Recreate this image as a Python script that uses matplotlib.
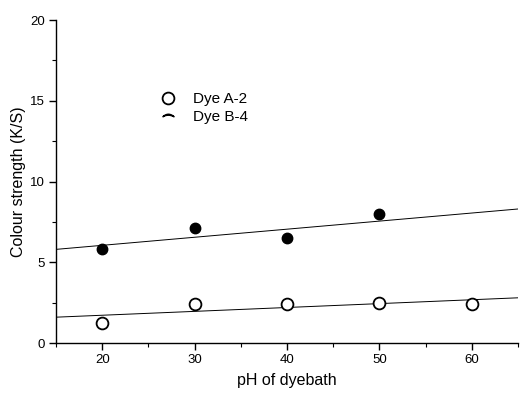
import matplotlib
matplotlib.use("Agg")
import matplotlib.pyplot as plt
from matplotlib.lines import Line2D
from matplotlib.ticker import MultipleLocator

plt.rcParams["font.family"] = ["Liberation Sans", "DejaVu Sans"]

ph = [20, 30, 40, 50, 60]
dye_a = [1.25, 2.4, 2.4, 2.5, 2.4]
ph_b = [20, 30, 40, 50]
dye_b = [5.8, 7.1, 6.5, 8.0]

fit_x = [15, 65]
fit_a = [1.6, 2.8]
fit_b = [5.8, 8.3]

fig = plt.figure(figsize=(5.21, 3.94), dpi=100)
ax = fig.add_axes([0.1075, 0.1294, 0.8865, 0.8196])

ax.plot(fit_x, fit_a, color="black", lw=0.7)
ax.plot(fit_x, fit_b, color="black", lw=0.7)
ax.plot(ph, dye_a, "o", ms=8.5, mfc="white", mec="black", mew=1.3, clip_on=False)
ax.plot(ph_b, dye_b, "o", ms=7.5, mfc="black", mec="black", mew=1.0)

ax.set_xlim(15, 65)
ax.set_ylim(0, 20)
ax.xaxis.set_major_locator(MultipleLocator(10))
ax.xaxis.set_minor_locator(MultipleLocator(5))
ax.yaxis.set_major_locator(MultipleLocator(5))
ax.yaxis.set_minor_locator(MultipleLocator(2.5))
ax.spines["top"].set_visible(False)
ax.spines["right"].set_visible(False)
for s in ("left", "bottom"):
    ax.spines[s].set_linewidth(1.0)
ax.tick_params(which="major", length=5, width=1.0, labelsize=9.5, pad=3)
ax.tick_params(which="minor", length=3, width=0.8)

ax.set_xlabel("pH of dyebath", fontsize=11.5, labelpad=5)
ax.set_ylabel("Colour strength (K/S)", fontsize=11.5, labelpad=3)

handles = [
    Line2D([], [], ls="none", marker="o", ms=8.5, mfc="white", mec="black", mew=1.3),
    Line2D([], [], ls="none", marker=r"$\frown$", ms=8, color="black"),
]
ax.legend(handles, ["Dye A-2", "Dye B-4"], loc="upper left",
          bbox_to_anchor=(0.18, 0.82), frameon=False, fontsize=11,
          handletextpad=0.6, labelspacing=0.25)

fig.savefig("out.png", dpi=100)
